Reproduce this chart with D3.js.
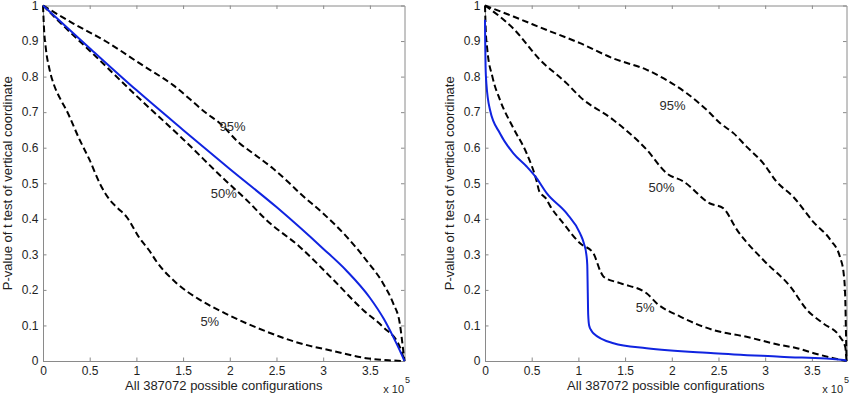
<!DOCTYPE html>
<html>
<head>
<meta charset="utf-8">
<script src="https://cdn.jsdelivr.net/npm/d3@7"></script>
<style>
  html, body { margin: 0; padding: 0; background: #fff; }
  svg { display: block; font-family: "Liberation Sans", Arial, sans-serif; }
</style>
</head>
<body>
<svg id="chart" width="850" height="394"></svg>
<script>
// x values are in units of 1e5 configurations
const xMax = 3.87072;
const xTicks = [0, 0.5, 1, 1.5, 2, 2.5, 3, 3.5];
const yTicks = [0, 0.1, 0.2, 0.3, 0.4, 0.5, 0.6, 0.7, 0.8, 0.9, 1];
const xLabel = "All 387072 possible configurations";
const yLabel = "P-value of t test of vertical coordinate";

// left panel
const leftObserved = [[0,1],[0.5,0.88],[1.0,0.762],[1.5,0.65],[2.0,0.54],[2.5,0.433],[3.0,0.316],
  [3.25,0.254],[3.5,0.178],[3.65,0.118],[3.75,0.068],[3.82,0.03],[3.8707,0]];
const left95 = [[0,1],[0.32,0.95],[0.68,0.898],[1.036,0.837],[1.393,0.776],[1.75,0.697],[1.893,0.669],
  [2.107,0.612],[2.25,0.584],[2.46,0.542],[2.64,0.50],[2.75,0.472],[3.0,0.415],[3.25,0.35],[3.46,0.284],
  [3.64,0.219],[3.75,0.162],[3.82,0.106],[3.857,0.03],[3.8707,0]];
const left50 = [[0,1],[0.25,0.935],[0.5,0.873],[1.0,0.746],[1.5,0.624],[1.965,0.505],[2.18,0.453],
  [2.39,0.397],[2.75,0.321],[3.11,0.228],[3.43,0.143],[3.64,0.096],[3.82,0.04],[3.8707,0]];
const left5 = [[0,1],[0.012,0.93],[0.03,0.88],[0.07,0.82],[0.12,0.775],[0.18,0.74],[0.25,0.706],
  [0.393,0.622],[0.5,0.565],[0.607,0.50],[0.715,0.453],[0.8,0.43],[0.893,0.406],[1.036,0.345],
  [1.14,0.31],[1.215,0.28],[1.43,0.219],[1.68,0.172],[1.95,0.134],[2.4,0.082],[2.75,0.05],
  [3.11,0.028],[3.46,0.008],[3.7,0.002],[3.8707,0]];
const leftPercentLabels = [["95%", 2.03, 0.661], ["50%", 1.936, 0.47], ["5%", 1.786, 0.111]];

// right panel
const rightObserved = [[0,0.96],[0.002,0.9],[0.006,0.83],[0.015,0.78],[0.054,0.706],[0.161,0.64],
  [0.304,0.584],[0.446,0.547],[0.55,0.515],[0.66,0.472],[0.875,0.415],[1.018,0.359],[1.06,0.33],
  [1.085,0.30],[1.095,0.27],[1.1,0.2],[1.105,0.13],[1.115,0.1],[1.14,0.085],[1.16,0.078],
  [1.375,0.05],[1.73,0.036],[2.45,0.022],[3.16,0.012],[3.84,0.003],[3.8707,0]];
const right95 = [[0,1],[0.304,0.969],[0.661,0.931],[1.018,0.894],[1.375,0.851],[1.733,0.819],
  [1.946,0.79],[2.16,0.753],[2.375,0.706],[2.518,0.669],[2.66,0.641],[2.80,0.603],[2.98,0.556],
  [3.12,0.505],[3.30,0.462],[3.52,0.39],[3.70,0.34],[3.80,0.293],[3.84,0.247],[3.857,0.181],
  [3.865,0.08],[3.869,0.03],[3.8707,0]];
const right50 = [[0,1],[0.304,0.935],[0.589,0.847],[0.875,0.781],[1.018,0.743],[1.375,0.678],
  [1.733,0.594],[1.946,0.528],[2.125,0.505],[2.41,0.443],[2.55,0.43],[2.70,0.368],[2.98,0.284],
  [3.27,0.209],[3.45,0.143],[3.62,0.106],[3.80,0.068],[3.857,0.04],[3.8707,0]];
const right5 = [[0,1],[0.008,0.93],[0.025,0.875],[0.079,0.80],[0.161,0.734],[0.304,0.655],
  [0.446,0.584],[0.554,0.505],[0.58,0.478],[0.65,0.458],[0.70,0.435],[0.839,0.387],[1.018,0.331],
  [1.16,0.303],[1.24,0.25],[1.27,0.237],[1.446,0.219],[1.733,0.19],[1.84,0.162],[2.09,0.125],
  [2.446,0.087],[2.80,0.068],[3.16,0.045],[3.34,0.036],[3.52,0.022],[3.73,0.008],[3.8707,0]];
const rightPercentLabels = [["95%", 2.009, 0.72], ["50%", 1.891, 0.489], ["5%", 1.714, 0.152]];

const svg = d3.select("#chart");

function drawPanel(opts) {
    const x = d3.scaleLinear().domain([0, xMax]).range([opts.left, opts.right]);
    const y = d3.scaleLinear().domain([0, 1]).range([361, 5.5]);
    const g = svg.append("g");

    const style = a => a
        .call(a => a.selectAll("path, line").attr("stroke", "#8a8a8a"))
        .call(a => a.selectAll("text").attr("fill", "#1e1e1e").attr("font-size", 12).attr("font-family", null));

    g.append("g")
        .attr("transform", `translate(0,${y(0)})`)
        .call(d3.axisBottom(x).tickValues(xTicks).tickFormat(d3.format("")).tickSizeInner(-3.5).tickSizeOuter(0).tickPadding(5.5))
        .call(style);
    g.append("g")
        .attr("transform", `translate(0,${y(1)})`)
        .call(d3.axisTop(x).tickValues(xTicks).tickFormat("").tickSizeInner(-3.5).tickSizeOuter(0))
        .call(style);
    g.append("g")
        .attr("transform", `translate(${x(0)},0)`)
        .call(d3.axisLeft(y).tickValues(yTicks).tickFormat(d3.format("")).tickSizeInner(-3.5).tickSizeOuter(0).tickPadding(4.5))
        .call(style);
    g.append("g")
        .attr("transform", `translate(${x(xMax)},0)`)
        .call(d3.axisRight(y).tickValues(yTicks).tickFormat("").tickSizeInner(-3.5).tickSizeOuter(0))
        .call(style);

    const line = d3.line()
        .x(d => x(d[0]))
        .y(d => y(d[1]))
        .curve(d3.curveMonotoneX);

    opts.dashed.forEach(series => {
        g.append("path")
            .datum(series)
            .attr("fill", "none")
            .attr("stroke", "#000")
            .attr("stroke-width", 2)
            .attr("stroke-dasharray", "6.5,3.5")
            .attr("d", line);
    });

    g.append("path")
        .datum(opts.observed)
        .attr("fill", "none")
        .attr("stroke", "#1024e0")
        .attr("stroke-width", 2)
        .attr("d", line);

    g.selectAll(".pct")
        .data(opts.labels)
        .join("text")
        .attr("x", d => x(d[1]))
        .attr("y", d => y(d[2]))
        .attr("dy", "0.35em")
        .attr("text-anchor", "middle")
        .attr("font-size", 13)
        .attr("fill", "#2a2a2a")
        .text(d => d[0]);

    // axis titles
    g.append("text")
        .attr("x", (opts.left + opts.right) / 2)
        .attr("y", 390)
        .attr("text-anchor", "middle")
        .attr("font-size", 13)
        .attr("fill", "#1e1e1e")
        .text(xLabel);

    g.append("text")
        .attr("transform", `translate(${opts.left - 31.5},${y(0.5)}) rotate(-90)`)
        .attr("text-anchor", "middle")
        .attr("font-size", 13)
        .attr("fill", "#1e1e1e")
        .text(yLabel);

    // exponent
    g.append("text")
        .attr("x", opts.expX)
        .attr("y", 393)
        .attr("text-anchor", "end")
        .attr("font-size", 11)
        .attr("fill", "#1e1e1e")
        .text("x 10");
    g.append("text")
        .attr("x", opts.expX + 1)
        .attr("y", 383)
        .attr("font-size", 9)
        .attr("fill", "#1e1e1e")
        .text("5");
}

drawPanel({ left: 43, right: 404.5, observed: leftObserved, dashed: [left95, left50, left5], labels: leftPercentLabels, expX: 404 });
drawPanel({ left: 485, right: 846.5, observed: rightObserved, dashed: [right95, right50, right5], labels: rightPercentLabels, expX: 843 });
</script>
</body>
</html>
